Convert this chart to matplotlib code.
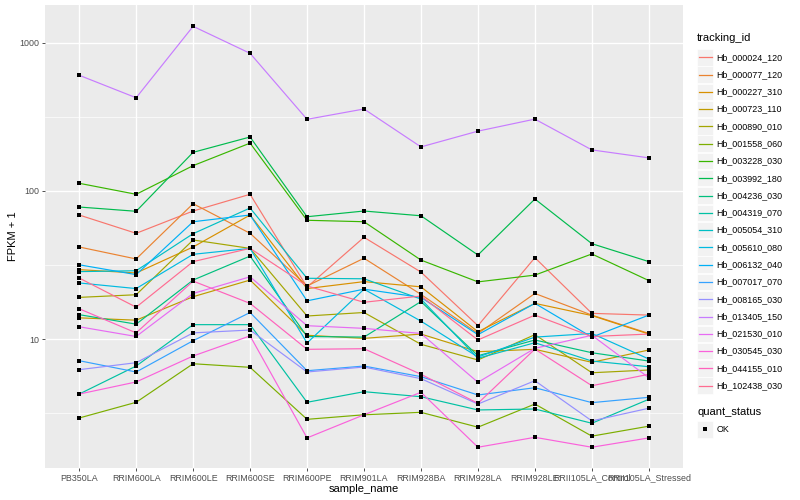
import numpy as np
import matplotlib
matplotlib.use('Agg')
import matplotlib.pyplot as plt
from matplotlib.lines import Line2D
from matplotlib.patches import Rectangle
from matplotlib.ticker import NullFormatter

plt.rcParams['font.family'] = ['Liberation Sans', 'DejaVu Sans']

samples = ['PB350LA', 'RRIM600LA', 'RRIM600LE', 'RRIM600SE', 'RRIM600PE', 'RRIM901LA',
           'RRIM928BA', 'RRIM928LA', 'RRIM928LE', 'RRII105LA_Control', 'RRII105LA_Stressed']

# FPKM + 1 per gene, one value per sample
hb_000024_120 = [68.7, 51.7, 73.1, 94.8, 22.4, 48.6, 28.3, 12.3, 35.4, 14.9, 14.5]
hb_000077_120 = [41.8, 34.7, 81.9, 51.7, 22.8, 35.1, 20.0, 10.9, 20.3, 14.5, 10.9]
hb_000227_310 = [29.4, 27.9, 41.8, 68.7, 21.9, 24.4, 22.5, 11.2, 17.4, 14.4, 10.8]
hb_000723_110 = [13.9, 13.4, 19.3, 25.0, 10.6, 10.1, 10.8, 8.21, 8.52, 6.96, 8.43]
hb_000890_010 = [19.1, 19.9, 46.6, 40.9, 14.3, 15.1, 9.21, 7.22, 10.7, 5.92, 6.18]
hb_001558_060 = [2.93, 3.74, 6.81, 6.44, 2.87, 3.08, 3.20, 2.54, 3.64, 2.21, 2.58]
hb_003228_030 = [112.5, 94.8, 148, 210, 63.3, 61.9, 34.1, 24.3, 27.0, 37.5, 24.8]
hb_003992_180 = [77.8, 72.8, 182, 231, 66.9, 73.1, 67.9, 36.9, 88.1, 44.0, 33.3]
hb_004236_030 = [14.6, 12.6, 25.0, 36.3, 10.4, 10.3, 17.9, 7.71, 9.85, 8.08, 7.10]
hb_004319_070 = [4.25, 6.57, 12.5, 12.5, 3.74, 4.41, 4.08, 3.32, 3.37, 2.70, 3.92]
hb_005054_310 = [28.5, 28.9, 51.4, 76.6, 25.7, 25.5, 18.6, 7.41, 9.44, 7.10, 6.50]
hb_005610_080 = [23.9, 21.9, 37.3, 40.9, 9.40, 21.7, 13.2, 7.56, 10.3, 10.9, 7.33]
hb_006132_040 = [31.7, 27.2, 61.9, 68.7, 18.1, 21.7, 19.1, 10.7, 17.4, 10.3, 14.5]
hb_007017_070 = [7.14, 5.99, 9.74, 15.1, 6.11, 6.57, 5.57, 4.19, 4.69, 3.72, 4.04]
hb_008165_030 = [6.21, 6.92, 11.0, 11.5, 5.99, 6.47, 5.40, 3.64, 5.23, 2.80, 3.41]
hb_013405_150 = [603, 425, 1290, 848, 304, 357, 198, 253, 305, 189, 167]
hb_021530_010 = [12.1, 10.4, 20.3, 26.3, 12.3, 11.8, 10.9, 5.10, 8.65, 10.6, 5.48]
hb_030545_030 = [4.25, 5.13, 7.68, 10.5, 2.15, 3.08, 4.37, 1.86, 2.17, 1.86, 2.15]
hb_044155_010 = [16.0, 11.0, 24.6, 17.4, 8.52, 8.60, 5.78, 3.68, 8.55, 4.84, 5.78]
hb_102438_030 = [25.8, 16.4, 33.3, 40.9, 22.8, 17.7, 19.5, 9.85, 14.5, 10.4, 10.8]

tracking_ids = ['Hb_000024_120', 'Hb_000077_120', 'Hb_000227_310', 'Hb_000723_110', 'Hb_000890_010',
                'Hb_001558_060', 'Hb_003228_030', 'Hb_003992_180', 'Hb_004236_030', 'Hb_004319_070',
                'Hb_005054_310', 'Hb_005610_080', 'Hb_006132_040', 'Hb_007017_070', 'Hb_008165_030',
                'Hb_013405_150', 'Hb_021530_010', 'Hb_030545_030', 'Hb_044155_010', 'Hb_102438_030']
series = [hb_000024_120, hb_000077_120, hb_000227_310, hb_000723_110, hb_000890_010,
          hb_001558_060, hb_003228_030, hb_003992_180, hb_004236_030, hb_004319_070,
          hb_005054_310, hb_005610_080, hb_006132_040, hb_007017_070, hb_008165_030,
          hb_013405_150, hb_021530_010, hb_030545_030, hb_044155_010, hb_102438_030]

# ggplot2 hue palette, 20 levels
colors = ['#F8766D', '#EA8331', '#D89000', '#C09B00', '#A3A500', '#7CAE00', '#39B600', '#00BB4E',
          '#00BF7D', '#00C1A3', '#00BFC4', '#00BAE0', '#00B0F6', '#35A2FF', '#9590FF', '#C77CFF',
          '#E76BF3', '#FA62DB', '#FF62BC', '#FF6C91']

fig = plt.figure(figsize=(8, 5), dpi=100)
ax = fig.add_axes([45 / 800, 1 - 468 / 500, 638 / 800, 463 / 500])
ax.set_facecolor('#EBEBEB')

x = np.arange(len(samples))
for vals, col in zip(series, colors):
    ax.plot(x, vals, color=col, lw=0.85, zorder=3)
for vals in series:
    ax.plot(x, vals, 's', color='black', ms=2.8, mew=0, zorder=4)

ax.set_yscale('log')
ax.set_xlim(-0.6, len(samples) - 0.4)
ax.set_ylim(1.347, 1797)
ax.set_yticks([10, 100, 1000])
ax.set_yticklabels(['10', '100', '1000'])
ax.set_yticks([10 ** 0.5, 10 ** 1.5, 10 ** 2.5], minor=True)
ax.yaxis.set_minor_formatter(NullFormatter())
ax.set_xticks(x)
ax.set_xticklabels(samples)

ax.grid(which='major', color='white', lw=1.0, zorder=0)
ax.grid(which='minor', axis='y', color='white', lw=0.5, zorder=0)
ax.set_axisbelow(True)
for s in ax.spines.values():
    s.set_visible(False)
ax.tick_params(which='major', length=2.5, width=0.6, color='#333333', labelcolor='#4D4D4D',
               labelsize=6.4, pad=1.5)
ax.tick_params(which='minor', length=0)

ax.set_xlabel('sample_name', fontsize=8, labelpad=1)
ax.set_ylabel('FPKM + 1', fontsize=8)
ax.yaxis.set_label_coords(-27 / 638, 0.5)

# legend drawn in figure pixels, ggplot style
def fx(px):
    return px / 800

def fy(py):
    return 1 - py / 500

fig.text(fx(697), fy(38), 'tracking_id', fontsize=8, va='center', ha='left')
for i, (name, col) in enumerate(zip(tracking_ids, colors)):
    cy = 57.3 + i * 17.28
    fig.patches.append(Rectangle((fx(697), fy(cy + 8.2)), 16.4 / 800, 16.4 / 500,
                                 transform=fig.transFigure, facecolor='#F2F2F2', edgecolor='white', lw=0.5))
    fig.lines.append(Line2D([fx(698.5), fx(712)], [fy(cy), fy(cy)], transform=fig.transFigure,
                            color=col, lw=0.9))
    fig.text(fx(716.5), fy(cy), name, fontsize=6.4, va='center', ha='left')

fig.text(fx(697), fy(412.3), 'quant_status', fontsize=8, va='center', ha='left')
fig.patches.append(Rectangle((fx(697), fy(429.3 + 8.2)), 16.4 / 800, 16.4 / 500,
                             transform=fig.transFigure, facecolor='#F2F2F2', edgecolor='white', lw=0.5))
fig.lines.append(Line2D([fx(705.2)], [fy(429.3)], transform=fig.transFigure, marker='s',
                        color='black', ms=2.8, mew=0))
fig.text(fx(716.5), fy(429.3), 'OK', fontsize=6.4, va='center', ha='left')

fig.savefig('out.png', dpi=100)
